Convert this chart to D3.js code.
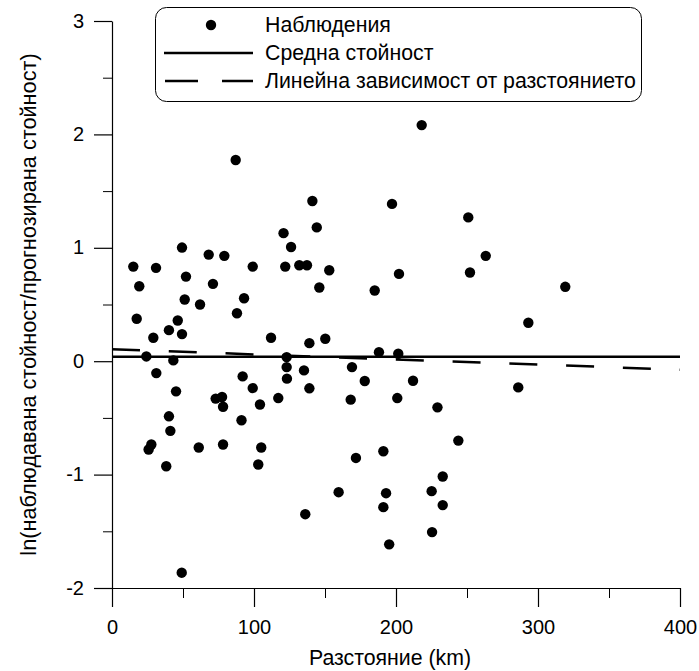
<!DOCTYPE html>
<html>
<head>
<meta charset="utf-8">
<script src="https://cdn.jsdelivr.net/npm/d3@7/dist/d3.min.js"></script>
<style>
  body { margin: 0; background: #fff; }
  svg { display: block; font-family: "Liberation Sans", Arial, sans-serif; }
</style>
</head>
<body>
<svg class="svg" width="699" height="671"></svg>
<script>
// observations: distance (km) and ln(observed/predicted)
let distKm = [87.1, 141.1, 197.2, 120.8, 144.2, 49.3, 126.1, 218.1, 250.9, 68.1,
  79.1, 15.0, 31.0, 99.1, 122.0, 131.9, 137.3, 153.0, 202.1, 263.2,
  252.1, 19.2, 52.1, 71.1, 146.0, 185.0, 319.2, 51.2, 62.0, 93.0,
  17.4, 88.0, 46.3, 40.1, 49.3, 29.1, 112.0, 139.0, 150.2, 293.2,
  188.0, 201.6, 24.2, 43.2, 123.0, 123.0, 135.2, 169.0, 31.2, 92.0,
  123.2, 178.0, 212.0, 99.1, 139.0, 45.1, 286.1, 73.0, 77.5, 78.2,
  104.2, 117.1, 168.1, 200.9, 229.2, 40.1, 91.2, 41.1, 243.9, 27.7,
  25.8, 38.2, 61.1, 78.2, 105.1, 103.0, 159.6, 171.8, 191.1, 193.0,
  191.1, 195.2, 136.1, 49.1, 232.9, 225.1, 232.9, 225.4];
let lnRatio = [1.774, 1.413, 1.387, 1.129, 1.180, 1.002, 1.007, 2.082, 1.268, 0.940,
  0.929, 0.834, 0.823, 0.834, 0.834, 0.846, 0.846, 0.802, 0.770, 0.929,
  0.782, 0.661, 0.746, 0.682, 0.650, 0.623, 0.656, 0.544, 0.500, 0.555,
  0.374, 0.423, 0.359, 0.274, 0.239, 0.207, 0.207, 0.159, 0.198, 0.339,
  0.080, 0.066, 0.042, 0.007, 0.036, -0.052, -0.081, -0.052, -0.105, -0.134,
  -0.154, -0.175, -0.172, -0.237, -0.239, -0.266, -0.231, -0.330, -0.316, -0.402,
  -0.382, -0.325, -0.339, -0.325, -0.407, -0.486, -0.521, -0.614, -0.700, -0.735,
  -0.779, -0.926, -0.761, -0.735, -0.761, -0.911, -1.155, -0.853, -0.794, -1.164,
  -1.287, -1.615, -1.349, -1.865, -1.017, -1.146, -1.269, -1.507];

let meanLine = [{x: 0, y: 0.04}, {x: 400, y: 0.04}];
let trendLine = [{x: 0, y: 0.105}, {x: 400, y: -0.075}];

let xTicks = [0, 100, 200, 300, 400];
let xMinor = [50, 150, 250, 350];
let yTicks = [-2, -1, 0, 1, 2, 3];
let yMinor = [-1.5, -0.5, 0.5, 1.5, 2.5];

let legendNames = ['Наблюдения', 'Средна стойност', 'Линейна зависимост от разстоянието'];
let xTitle = 'Разстояние (km)';
let yTitle = 'ln(наблюдавана стойност/прогнозирана стойност)';

let plotLeft = 112, plotRight = 680, plotTop = 21, plotBottom = 588;
let tickFont = 20;
let textFont = 21.3;

function drawChart() {
    let svg = d3.select('.svg');
    let x = d3.scaleLinear().domain([0, 400]).range([plotLeft, plotRight]);
    let y = d3.scaleLinear().domain([-2, 3]).range([plotBottom, plotTop]);

    // minor ticks
    svg.append('g')
        .attr('transform', 'translate(0,' + plotBottom + ')')
        .call(d3.axisBottom(x).tickValues(xMinor).tickSize(10).tickFormat(''))
        .call(g => g.select('.domain').remove());
    svg.append('g')
        .attr('transform', 'translate(' + plotLeft + ',0)')
        .call(d3.axisLeft(y).tickValues(yMinor).tickSize(9).tickFormat(''))
        .call(g => g.select('.domain').remove());

    // major axes
    let xAxis = svg.append('g')
        .attr('class', 'xAxis')
        .attr('transform', 'translate(0,' + plotBottom + ')')
        .call(d3.axisBottom(x).tickValues(xTicks).tickSize(19).tickSizeOuter(0).tickPadding(13)
            .tickFormat(function (d) { return String(d); }));
    let yAxis = svg.append('g')
        .attr('class', 'yAxis')
        .attr('transform', 'translate(' + plotLeft + ',0)')
        .call(d3.axisLeft(y).tickValues(yTicks).tickSize(18).tickSizeOuter(0).tickPadding(10)
            .tickFormat(function (d) { return String(d); }));

    svg.selectAll('.xAxis, .yAxis').selectAll('line, path').attr('stroke', '#000').attr('stroke-width', 1.2);
    svg.selectAll('g').selectAll('.tick line').attr('stroke', '#000');
    svg.selectAll('.tick text')
        .attr('font-size', tickFont)
        .attr('font-family', '"Liberation Sans", Arial, sans-serif')
        .attr('fill', '#000');
    yAxis.selectAll('.tick text').attr('dy', '0.3em');

    // axis titles
    svg.append('text')
        .attr('x', 390)
        .attr('y', 665)
        .attr('text-anchor', 'middle')
        .attr('font-size', textFont)
        .text(xTitle);
    svg.append('text')
        .attr('transform', 'translate(36,' + ((plotTop + plotBottom) / 2) + ') rotate(-90)')
        .attr('text-anchor', 'middle')
        .attr('font-size', 21.7)
        .text(yTitle);

    // lines
    let line = d3.line().x(function (d) { return x(d.x); }).y(function (d) { return y(d.y); });
    svg.append('path')
        .datum(meanLine)
        .attr('d', line)
        .attr('fill', 'none')
        .attr('stroke', '#000')
        .attr('stroke-width', 2.5);
    svg.append('path')
        .datum(trendLine)
        .attr('d', line)
        .attr('fill', 'none')
        .attr('stroke', '#000')
        .attr('stroke-width', 2.5)
        .attr('stroke-dasharray', '28,28.8');

    // points
    let pts = distKm.map(function (d, i) { return {x: d, y: lnRatio[i]}; });
    svg.append('g').selectAll('circle')
        .data(pts)
        .enter()
        .append('circle')
        .attr('cx', function (d) { return x(d.x); })
        .attr('cy', function (d) { return y(d.y); })
        .attr('r', 5.2)
        .attr('fill', '#000');

    // legend
    let legend = svg.append('g').attr('class', 'legend');
    legend.append('rect')
        .attr('x', 155.5).attr('y', 7.5)
        .attr('width', 486).attr('height', 94)
        .attr('rx', 11).attr('ry', 11)
        .attr('fill', '#fff')
        .attr('stroke', '#000')
        .attr('stroke-width', 1);
    let rowY = [25, 53, 81];
    legend.append('circle')
        .attr('cx', 211).attr('cy', rowY[0]).attr('r', 5.2).attr('fill', '#000');
    legend.append('line')
        .attr('x1', 164).attr('x2', 253).attr('y1', rowY[1]).attr('y2', rowY[1])
        .attr('stroke', '#000').attr('stroke-width', 2.5);
    legend.append('line')
        .attr('x1', 165).attr('x2', 253).attr('y1', rowY[2]).attr('y2', rowY[2])
        .attr('stroke', '#000').attr('stroke-width', 2.5)
        .attr('stroke-dasharray', '33,24');
    legend.selectAll('.legendText')
        .data(legendNames)
        .enter()
        .append('text')
        .attr('class', 'legendText')
        .attr('x', 265)
        .attr('y', function (d, i) { return rowY[i]; })
        .attr('dy', '0.35em')
        .attr('font-size', textFont)
        .text(function (d) { return d; });
}

drawChart();
</script>
</body>
</html>
